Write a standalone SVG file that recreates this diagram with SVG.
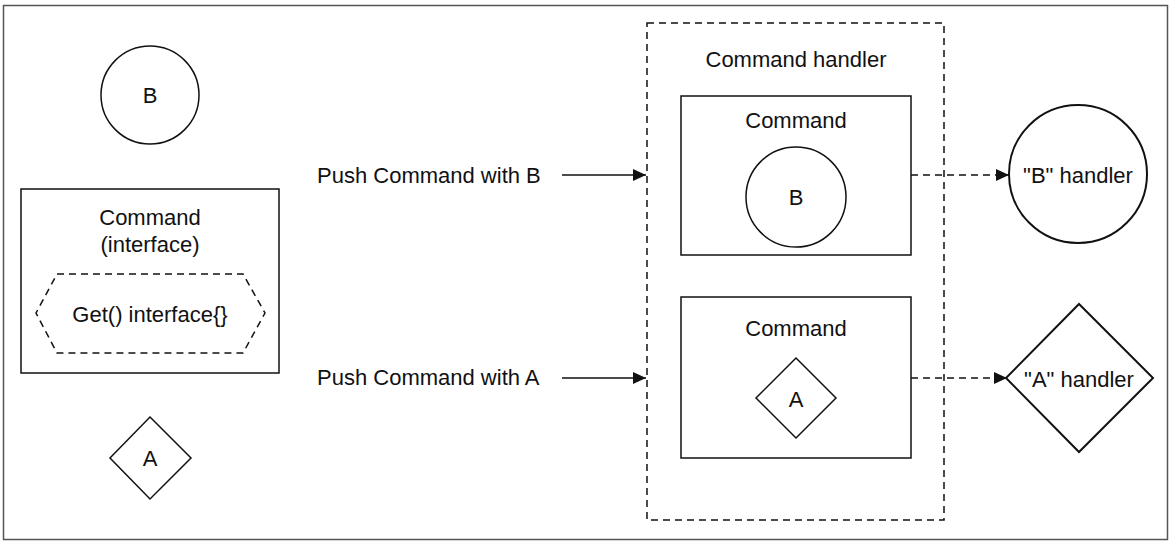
<svg xmlns="http://www.w3.org/2000/svg" width="1174" height="547" viewBox="0 0 1174 547">
<style>
  text { font-family: "Liberation Sans", Arial, sans-serif; font-size: 22px; fill: #111; }
  .c { text-anchor: middle; }
  .solid { fill: #fff; stroke: #111; stroke-width: 1.5; }
  .thick { fill: #fff; stroke: #111; stroke-width: 2; }
  .dash { fill: none; stroke: #111; stroke-width: 1.5; stroke-dasharray: 7 5; }
  .conn { fill: none; stroke: #111; stroke-width: 1.6; }
  .conn-dash { fill: none; stroke: #111; stroke-width: 1.6; stroke-dasharray: 7 5; }
</style>
<defs>
  <marker id="arrow" viewBox="0 0 13 12" refX="13" refY="6" markerWidth="13" markerHeight="12" markerUnits="userSpaceOnUse" orient="auto">
    <path d="M0,0 L13,6 L0,12 Z" fill="#111"/>
  </marker>
</defs>
<rect x="0" y="0" width="1174" height="547" fill="#fff"/>
<rect x="3.5" y="5.5" width="1164" height="534" fill="none" stroke="#555" stroke-width="1.5"/>

<g id="circleB">
  <circle cx="150" cy="95" r="49" class="solid"/>
  <text x="150" y="103" class="c">B</text>
</g>

<g id="commandInterface">
  <rect x="21" y="189" width="258" height="184" class="solid"/>
  <text x="150" y="225" class="c">Command</text>
  <text x="150" y="252" class="c">(interface)</text>
  <polygon points="57,274 243,274 265,313 243,353 57,353 36,313" class="dash"/>
  <text x="150" y="322" class="c">Get() interface{}</text>
</g>

<g id="diamondA">
  <polygon points="150,417 191,458 150,499 110,458" class="solid"/>
  <text x="150" y="466" class="c">A</text>
</g>

<g id="pushB">
  <text x="317" y="183">Push Command with B</text>
</g>
<g id="pushA">
  <text x="317" y="385">Push Command with A</text>
</g>

<g id="commandHandler">
  <rect x="647" y="23" width="297" height="497" class="dash"/>
  <text x="796" y="67" class="c">Command handler</text>
</g>

<g id="commandB">
  <rect x="681" y="96" width="230" height="159" class="solid"/>
  <text x="796" y="128" class="c">Command</text>
  <circle cx="796" cy="197" r="50" class="solid"/>
  <text x="796" y="205" class="c">B</text>
</g>

<g id="commandA">
  <rect x="681" y="297" width="230" height="161" class="solid"/>
  <text x="796" y="336" class="c">Command</text>
  <polygon points="796,358 836,398 796,438 756,398" class="solid"/>
  <text x="796" y="407" class="c">A</text>
</g>

<g id="handlerB">
  <circle cx="1078" cy="174" r="69" class="thick"/>
  <text x="1078" y="183" class="c">"B" handler</text>
</g>

<g id="handlerA">
  <polygon points="1079,304 1153,378 1079,452 1006,378" class="thick"/>
  <text x="1079" y="387" class="c">"A" handler</text>
</g>

<g id="connectors">
  <line x1="562" y1="175" x2="646" y2="175" class="conn" marker-end="url(#arrow)"/>
  <line x1="562" y1="378" x2="646" y2="378" class="conn" marker-end="url(#arrow)"/>
  <line x1="911" y1="175" x2="1009" y2="175" class="conn-dash" marker-end="url(#arrow)"/>
  <line x1="911" y1="378" x2="1007" y2="378" class="conn-dash" marker-end="url(#arrow)"/>
</g>
</svg>
